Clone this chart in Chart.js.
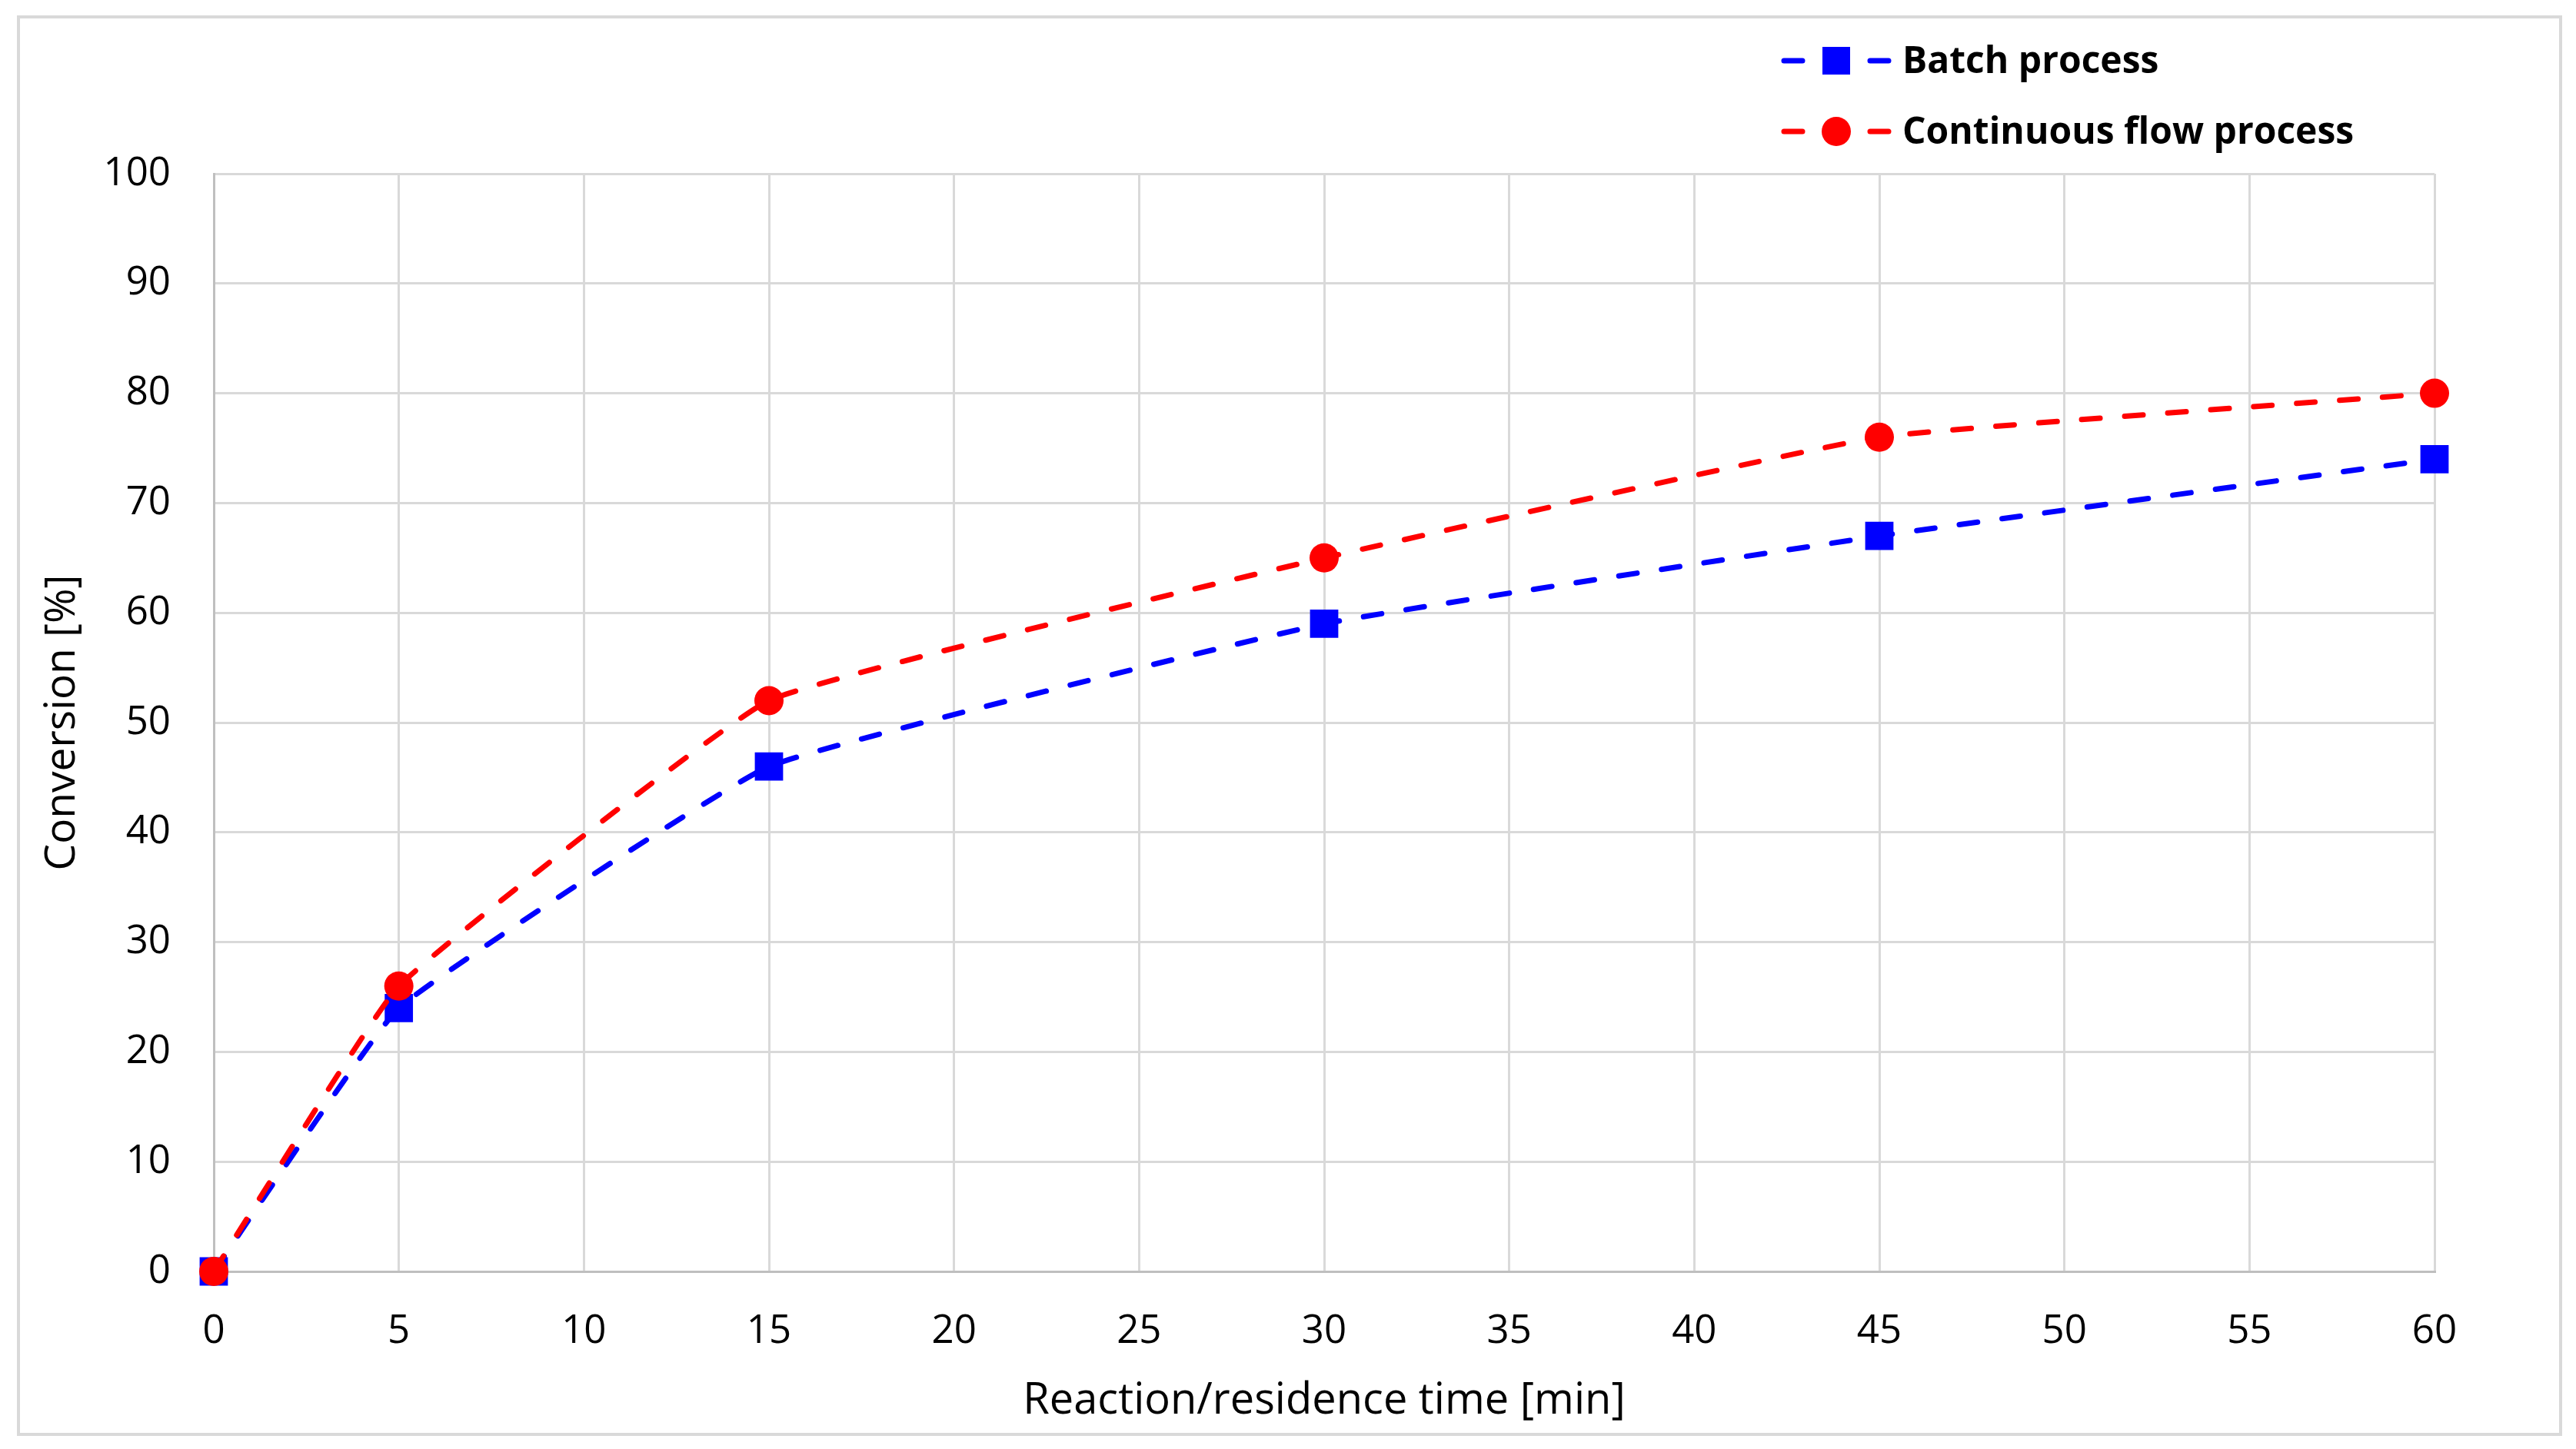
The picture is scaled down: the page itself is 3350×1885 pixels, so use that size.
<!DOCTYPE html>
<html lang="en">
<head>
    <meta charset="UTF-8">
    <title>Conversion vs reaction time</title>
    <script src="https://cdn.jsdelivr.net/npm/chart.js"></script>
    <style>
        html, body { margin: 0; padding: 0; background: #ffffff; }
        #wrap { width: 3350px; height: 1885px; }
    </style>
</head>
<body>

<div id="wrap"><canvas id="myChart" width="3350" height="1885"></canvas></div>

<script>
    // data
    const times = [0, 5, 15, 30, 45, 60];
    const batchConv = [0, 24, 46, 59, 67, 74];
    const flowConv = [0, 26, 52, 65, 76, 80];
    const seriesNames = ['Batch process', 'Continuous flow process'];
    const xTitle = 'Reaction/residence time [min]';
    const yTitle = 'Conversion [%]';

    const toPoints = ys => times.map((t, i) => ({x: t, y: ys[i]}));

    const FONT = '"Open Sans", "Liberation Sans", sans-serif';

    // white background + light frame around the whole figure
    const framePlugin = {
        id: 'frame',
        beforeDraw: (chart) => {
            const {ctx} = chart;
            ctx.save();
            ctx.fillStyle = '#ffffff';
            ctx.fillRect(0, 0, chart.width, chart.height);
            ctx.strokeStyle = '#d9d9d9';
            ctx.lineWidth = 4;
            ctx.strokeRect(24, 22, 3306, 1844);
            ctx.restore();
        }
    };

    // excel-like legend: dash - marker - dash, then bold label
    const legendPlugin = {
        id: 'excelLegend',
        afterDraw: (chart) => {
            const {ctx} = chart;
            const rows = [79, 171];
            chart.data.datasets.forEach((ds, i) => {
                const y = rows[i];
                ctx.save();
                ctx.strokeStyle = ds.borderColor;
                ctx.lineWidth = 7;
                ctx.lineCap = 'round';
                ctx.beginPath();
                ctx.moveTo(2320, y); ctx.lineTo(2344, y);
                ctx.moveTo(2432, y); ctx.lineTo(2456, y);
                ctx.stroke();
                ctx.fillStyle = ds.backgroundColor;
                if (ds.pointStyle === 'rect') {
                    ctx.fillRect(2388 - 18, y - 18, 36, 36);
                } else {
                    ctx.beginPath();
                    ctx.arc(2388, y, 19, 0, Math.PI * 2);
                    ctx.fill();
                }
                ctx.fillStyle = '#000000';
                ctx.font = 'bold 48px ' + FONT;
                ctx.textBaseline = 'middle';
                ctx.textAlign = 'left';
                ctx.fillText(ds.label, 2474, y + 2);
                ctx.restore();
            });
        }
    };

    const ctx = document.getElementById('myChart').getContext('2d');

    const chart = new Chart(ctx, {
        type: 'line',
        data: {
            datasets: [{
                label: seriesNames[0],
                data: toPoints(batchConv),
                borderColor: '#0000ff',
                backgroundColor: '#0000ff',
                borderWidth: 7,
                borderDash: [24, 32],
                borderCapStyle: 'round',
                pointStyle: 'rect',
                pointRadius: 26,
                pointHoverRadius: 26,
                pointBorderWidth: 0,
                tension: 0.1,
                clip: false,
                order: 1
            }, {
                label: seriesNames[1],
                data: toPoints(flowConv),
                borderColor: '#ff0000',
                backgroundColor: '#ff0000',
                borderWidth: 7,
                borderDash: [24, 32],
                borderCapStyle: 'round',
                pointStyle: 'circle',
                pointRadius: 19,
                pointHoverRadius: 19,
                pointBorderWidth: 0,
                tension: 0.1,
                clip: false,
                order: 0
            }]
        },
        options: {
            responsive: false,
            animation: false,
            devicePixelRatio: 1,
            layout: {
                padding: {left: 24, right: 184, top: 226, bottom: 0}
            },
            plugins: {
                legend: {display: false},
                tooltip: {enabled: false}
            },
            scales: {
                x: {
                    type: 'linear',
                    min: 0,
                    max: 60,
                    ticks: {
                        stepSize: 5,
                        color: '#000000',
                        padding: 48,
                        font: {family: FONT, size: 51}
                    },
                    grid: {color: '#d9d9d9', lineWidth: 3, drawTicks: false},
                    border: {color: '#bfbfbf', width: 3},
                    title: {
                        display: true,
                        text: xTitle,
                        color: '#000000',
                        font: {family: FONT, size: 56},
                        padding: {top: 0, bottom: 28}
                    },
                    afterFit: (scale) => { scale.height = 231; }
                },
                y: {
                    min: 0,
                    max: 100,
                    ticks: {
                        stepSize: 10,
                        color: '#000000',
                        padding: 56,
                        font: {family: FONT, size: 51}
                    },
                    grid: {color: '#d9d9d9', lineWidth: 3, drawTicks: false},
                    border: {color: '#bfbfbf', width: 3},
                    title: {
                        display: true,
                        text: yTitle,
                        color: '#000000',
                        font: {family: FONT, size: 55},
                        padding: {top: 24, bottom: 0}
                    },
                    afterFit: (scale) => { scale.width = 254; }
                }
            }
        },
        plugins: [framePlugin, legendPlugin]
    });
</script>

</body>
</html>
